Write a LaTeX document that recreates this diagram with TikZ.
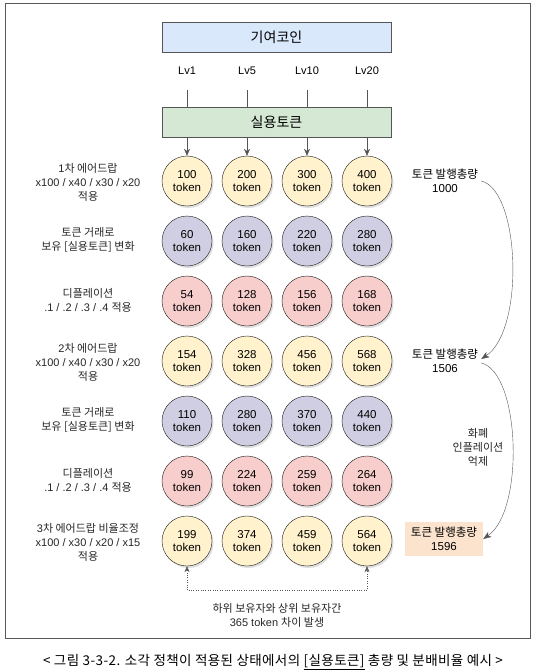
\documentclass[tikz,border=0pt]{standalone}
\usepackage{fontspec}
\setmainfont{Liberation Sans}
\newfontfamily\krfont{Noto Sans CJK KR}
\newfontfamily\capfont[LetterSpace=3]{Noto Sans CJK KR}
\newcommand{\kr}[1]{{\krfont #1}}
\usepackage{tikz}
\usetikzlibrary{arrows.meta,positioning,shadows}
\definecolor{coinblue}{HTML}{DAE8FC}
\definecolor{utilgreen}{HTML}{D5E8D4}
\definecolor{ballyellow}{HTML}{FFF2CC}
\definecolor{ballpurple}{HTML}{D0CEE2}
\definecolor{ballred}{HTML}{F8CECC}
\definecolor{totalpeach}{HTML}{FBE3CD}
\definecolor{linegray}{HTML}{555555}
\begin{document}
\begin{tikzpicture}[
x=1pt, y=-1pt,
font=\fontsize{11}{14}\selectfont,
bar/.style={draw=linegray, minimum width=229pt, minimum height=30pt, inner sep=0pt, font=\krfont\fontsize{14}{16}\selectfont},
ball/.style={circle, draw=gray!20!black, minimum size=50pt, inner sep=0pt, align=center, font=\fontsize{11.5}{13}\selectfont, drop shadow={opacity=0.25, shadow xshift=1.5pt, shadow yshift=-2pt}},
rowlabel/.style={align=center, text=black!85},
lvlabel/.style={font=\fontsize{11}{13}\selectfont},
totallabel/.style={align=center, inner sep=3pt, font=\fontsize{11.5}{14}\selectfont},
link/.style={draw=linegray},
arr/.style={-{Stealth[length=7pt, width=6pt]}, draw=linegray},
curvearr/.style={-{Stealth[length=8pt, width=6pt, inset=2pt]}, draw=linegray},
dotarr/.style={{Stealth[length=6pt, width=5pt]}-{Stealth[length=6pt, width=5pt]}, draw=linegray, dotted}
]
\useasboundingbox (0,0) rectangle (535,672);
\draw[draw=gray!70!black] (5,3) rectangle (530,638);
\node[bar, fill=coinblue] (coin) at (276.5,37) {기여코인};
\node[bar, fill=utilgreen] (util) at (276.5,122) {실용토큰};
\foreach \r/\y/\fc/\vals in {
  1/181/ballyellow/{100,200,300,400},
  2/241/ballpurple/{60,160,220,280},
  3/301/ballred/{54,128,156,168},
  4/361/ballyellow/{154,328,456,568},
  5/421/ballpurple/{110,280,370,440},
  6/481/ballred/{99,224,259,264},
  7/541/ballyellow/{199,374,459,564}} {
  \foreach \v [count=\i] in \vals {
    \node[ball, fill=\fc] (c\r\i) at (127+60*\i,\y) {\v\\token};
  }
}
\foreach \lv [count=\i] in {1,5,10,20} {
  \node[lvlabel] (lv\i) at (127+60*\i,71) {Lv\lv};
  \draw[link] ([yshift=-19pt]lv\i.center) -- (lv\i |- util.north);
  \draw[arr] (lv\i |- util.south) -- (c1\i.north);
}
\node[rowlabel] (l1) at (88,182) {1\kr{차 에어드랍}\\x100 / x40 / x30 / x20\\\kr{적용}};
\node[rowlabel] (l2) at (88,240) {\kr{토큰 거래로}\\\kr{보유 [실용토큰] 변화}};
\node[rowlabel] (l3) at (88,300) {\kr{디플레이션}\\.1 / .2 / .3 / .4 \kr{적용}};
\node[rowlabel] (l4) at (88,362) {2\kr{차 에어드랍}\\x100 / x40 / x30 / x20\\\kr{적용}};
\node[rowlabel] (l5) at (88,420) {\kr{토큰 거래로}\\\kr{보유 [실용토큰] 변화}};
\node[rowlabel] (l6) at (88,480) {\kr{디플레이션}\\.1 / .2 / .3 / .4 \kr{적용}};
\node[rowlabel] (l7) at (88,542) {3\kr{차 에어드랍 비율조정}\\x100 / x30 / x20 / x15\\\kr{적용}};
\node[totallabel] (t1) at (445,181) {\kr{토큰 발행총량}\\1000};
\node[totallabel] (t2) at (445,361) {\kr{토큰 발행총량}\\1506};
\node[totallabel, fill=totalpeach, minimum width=78pt, minimum height=34pt] (t3) at (444,539) {\kr{토큰 발행총량}\\1596};
\node[rowlabel] (curb) at (478,447) {\kr{화폐}\\\kr{인플레이션}\\\kr{억제}};
\draw[curvearr] (t1.east) .. controls (520,190) and (525,330) .. ([yshift=2pt]t2.east);
\draw[curvearr] ([yshift=-2pt]t2.east) .. controls (520,372) and (525,510) .. (t3.east);
\coordinate (gapl) at (187,590);
\coordinate (gapr) at (367,590);
\draw[dotarr] (c71.south) -- (gapl) -- (gapr) -- (c74.south);
\node[rowlabel] (gap) at (277,615) {\kr{하위 보유자와 상위 보유자간}\\365 token \kr{차이 발생}};
\node (cap) at (273,662) {\capfont\fontsize{13.5}{16}\selectfont < 그림 3-3-2. 소각 정책이 적용된 상태에서의 \underline{[실용토큰]} 총량 및 분배비율 예시 >};
\end{tikzpicture}
\end{document}
